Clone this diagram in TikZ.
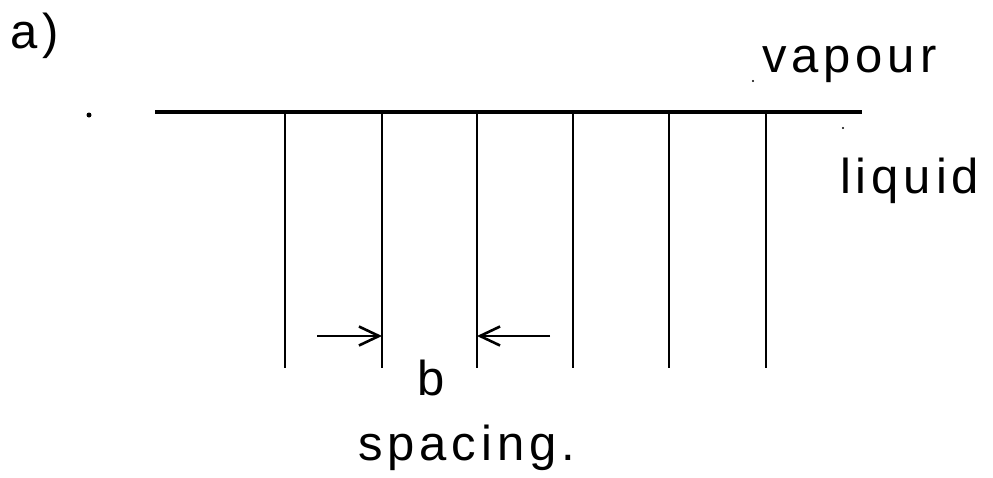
\documentclass[tikz,border=0pt]{standalone}
\usepackage{fontspec}
\setmainfont{Liberation Sans}[LetterSpace=10]
\usetikzlibrary{arrows.meta}
\begin{document}
\begin{tikzpicture}[x=1pt,y=-1pt,
  wall/.style={line width=2.8pt},
  surface/.style={line width=3.2pt},
  dimarrow/.style={line width=2.6pt,-{Straight Barb[length=20pt,width=19pt,line width=2.6pt]}},
  lbl/.style={anchor=base west,inner sep=0pt,font=\fontsize{49}{55}\selectfont},
  speck/.style={fill=black}]
\useasboundingbox (0,0) rectangle (993,477);
% free surface
\coordinate (sl) at (155,112);
\coordinate (sr) at (862,112);
\draw[surface] (sl) -- (sr);
% plates
\foreach \i/\x in {1/285,2/382,3/477,4/573,5/669,6/766}{
  \coordinate (t\i) at (\x,112);
  \coordinate (b\i) at (\x,368);
  \draw[wall] (t\i) -- (b\i);
}
% spacing arrows
\coordinate (al) at (317,336);
\coordinate (ar) at (550,336);
\draw[dimarrow] (al) -- (b2 |- al);
\draw[dimarrow] (ar) -- (b3 |- ar);
% labels
\node[lbl] (la) at (10,48) {a)};
\node[lbl] (lv) at (762,72) {vapour};
\node[lbl] (ll) at (840,193) {liquid};
\node[lbl] (lb) at (417,395) {b};
\node[lbl] (ls) at (358,460) {spacing.};
% specks
\fill[speck] (89,115) circle (2.5);
\fill[speck] (753,81) circle (1.2);
\fill[speck] (843,128) circle (1.2);
\end{tikzpicture}
\end{document}
